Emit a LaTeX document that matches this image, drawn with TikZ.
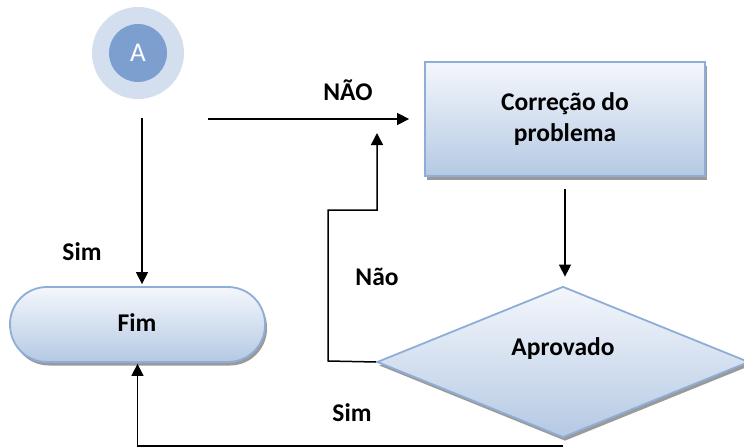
\documentclass[tikz,border=0pt]{standalone}
\usepackage{fontspec}
\setmainfont{Carlito}
\usetikzlibrary{arrows.meta,shapes.geometric,shadows}
\definecolor{outerring}{HTML}{D3DFEE}
\definecolor{innerdisc}{HTML}{7C9FD0}
\definecolor{edgeblue}{HTML}{8EAED7}
\definecolor{filltop}{HTML}{F4F7FC}
\definecolor{fillbot}{HTML}{B5C9E3}
\definecolor{shadowgray}{HTML}{9A9A9A}
\tikzset{
  flowbox/.style={draw=edgeblue, line width=1.8pt, top color=filltop, bottom color=fillbot,
    drop shadow={shadow xshift=2pt, shadow yshift=-3.5pt, fill=shadowgray, opacity=1},
    font=\bfseries\fontsize{25.5}{31}\selectfont, align=center, inner sep=0pt},
  lbl/.style={font=\bfseries\fontsize{25.5}{31}\selectfont, inner sep=0pt},
  conn/.style={line width=1.5pt, -{Triangle[length=12pt,width=12pt]}},
  plain/.style={line width=1.5pt}
}
\begin{document}
\begin{tikzpicture}[x=1pt,y=-1pt]
\useasboundingbox (0,0) rectangle (744,447);

% connector A
\node[circle, fill=outerring, minimum size=92pt, inner sep=0pt] (aring) at (138,53) {};
\node[circle, fill=innerdisc, minimum size=58pt, inner sep=0pt, text=white,
      font=\fontsize{27}{30}\selectfont] (a) at (138,53) {A};

% process, terminal and decision
\node[flowbox, rectangle, minimum width=280pt, minimum height=114pt] (fix) at (565,119)
  {Correção do\\problema};
\node[flowbox, rectangle, rounded corners=37pt, minimum width=255pt, minimum height=75pt] (fim) at (137.5,324.5) {};
\node[lbl] (fimtxt) at (137,323) {Fim};
\node[flowbox, diamond, aspect=2.47, minimum width=372pt, minimum height=151pt] (ok) at (563,362) {};
\node[lbl] (oktxt) at (563,349) {Aprovado};

% free ends of connectors
\coordinate (s1) at (142,118);
\coordinate (s2) at (208,119);
\coordinate (loopL) at (328,361);
\coordinate (loopT) at (377,210);
\coordinate (loopTip) at (377,133);
\coordinate (bot) at (563,446);

% connectors
\draw[conn, shorten >=2pt] (s1) -- (s1 |- fim.north);
\draw[conn, shorten >=15pt] (s2) -- (fix.west |- s2);
\draw[conn, shorten <=12pt, shorten >=9pt] (fix.south) -- (fix.south |- ok.north);
\draw[conn] (ok.west) -- (loopL) |- (loopT) -- (loopTip);
\draw[conn, shorten >=1pt] (bot) -| (fim.south);

% labels
\node[lbl] (nao1) at (348,90) {NÃO};
\node[lbl] (sim1) at (82,252) {Sim};
\node[lbl] (nao2) at (377,277) {Não};
\node[lbl] (sim2) at (352,413) {Sim};
\end{tikzpicture}
\end{document}
